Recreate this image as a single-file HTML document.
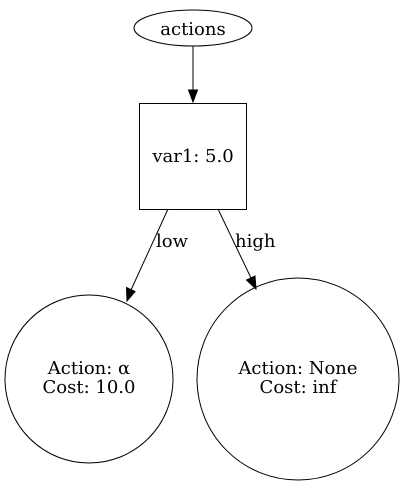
<!DOCTYPE html>
<html><head><meta charset="utf-8"><style>html,body{margin:0;padding:0;background:#fff}svg{display:block}text{font-family:"DejaVu Serif",serif;font-size:18px;fill:#000}</style></head>
<body>
<svg width="406" height="486" viewBox="0 0 406 486" xmlns="http://www.w3.org/2000/svg">
<rect width="406" height="486" fill="#fff"/>
<g fill="none" stroke="#000" stroke-width="1">
<ellipse cx="193" cy="28" rx="59" ry="18"/>
<rect x="139.5" y="103.5" width="107" height="106"/>
<circle cx="89" cy="379" r="84"/>
<circle cx="298" cy="379" r="101"/>
<line x1="193" y1="46" x2="193" y2="90"/>
<line x1="168" y1="209" x2="131" y2="290"/>
<line x1="218" y1="209" x2="251" y2="278"/>
</g>
<g fill="#000" stroke="#000">
<polygon points="188.5,90 197.5,90 193,102"/>
<polygon points="127,301 126.5,287.5 135,291.5"/>
<polygon points="256,289 246.5,280 255,276"/>
</g>
<text x="193" y="35" text-anchor="middle">actions</text>
<text x="193" y="162" text-anchor="middle">var1: 5.0</text>
<text x="156" y="247">low</text>
<text x="235" y="247">high</text>
<text x="89" y="374" text-anchor="middle">Action: α</text>
<text x="89" y="393" text-anchor="middle">Cost: 10.0</text>
<text x="298" y="374" text-anchor="middle">Action: None</text>
<text x="298" y="393" text-anchor="middle">Cost: inf</text>
</svg>
</body></html>
